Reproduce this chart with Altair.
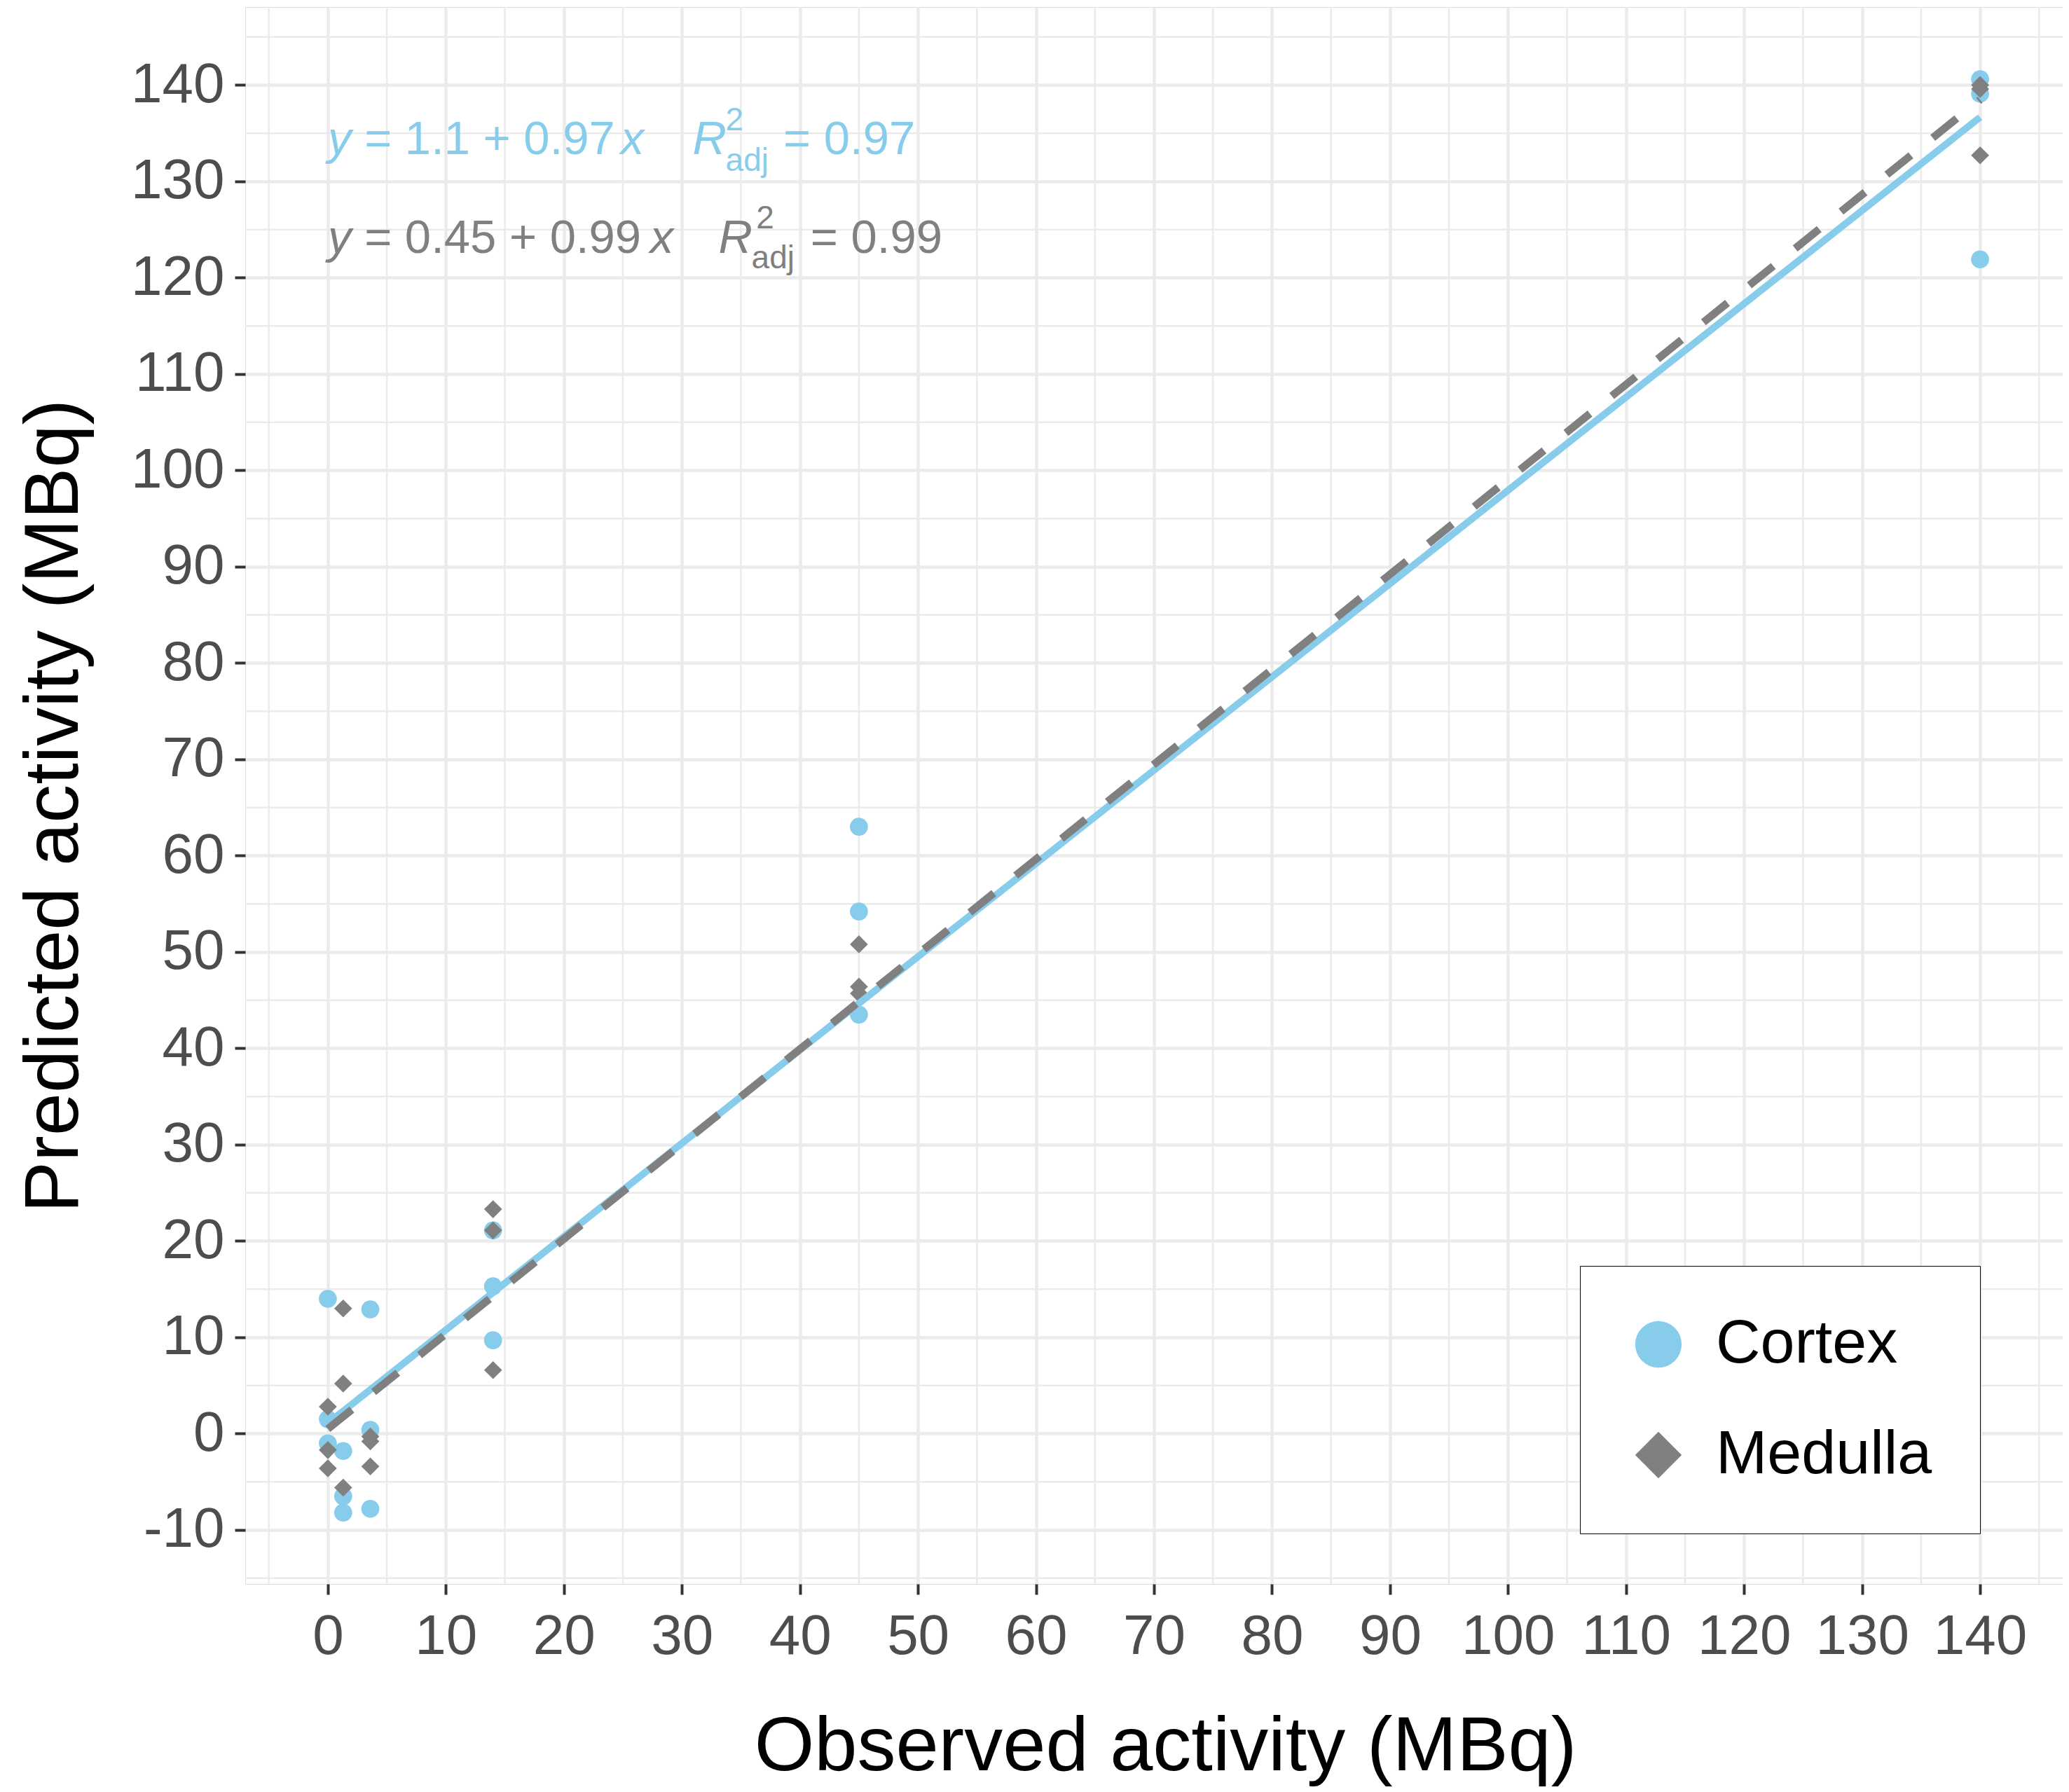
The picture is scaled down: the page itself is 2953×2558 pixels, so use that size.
import altair as alt
import pandas as pd

# ---------------- data ----------------
tissues = ["Cortex", "Medulla"]
observed = [0, 0, 0, 1.3, 1.3, 1.3, 3.6, 3.6, 3.6, 14, 14, 14, 45, 45, 45, 140, 140, 140]
pred_cortex = [14.0, 1.5, -1.0, -1.8, -6.5, -8.2, 12.9, 0.4, -7.8,
               21.1, 15.3, 9.7, 63.0, 54.2, 43.5, 140.6, 139.1, 121.9]
pred_medulla = [2.8, -1.7, -3.6, 13.0, 5.2, -5.6, -0.3, -0.8, -3.4,
                23.3, 21.1, 6.6, 50.8, 46.4, 45.7, 140.0, 132.7, 139.6]

x_ticks = list(range(0, 141, 10))
y_ticks = list(range(-10, 141, 10))
x_minor = list(range(-5, 146, 10))
y_minor = list(range(-15, 146, 10))

# equation annotation pieces (plotmath-like)
eq_text = ["y", "= 1.1 + 0.97", "x", "R", "2", "adj", "= 0.97",
           "y", "= 0.45 + 0.99", "x", "R", "2", "adj", "= 0.99"]
eq_x = [0.0, 3.1, 24.8, 30.9, 33.7, 33.7, 38.6,
        0.0, 3.1, 27.3, 33.1, 36.3, 35.9, 40.9]
eq_y = [132.8, 132.8, 132.8, 132.8, 135.3, 131.1, 132.8,
        122.6, 122.6, 122.6, 122.6, 125.1, 121.0, 122.6]
eq_size = [67, 67, 67, 67, 46, 46, 67,
           67, 67, 67, 67, 46, 46, 67]
eq_italic = [True, False, True, True, False, False, False,
             True, False, True, True, False, False, False]

BLUE = "#87CDEB"
GREY = "#808080"
eq_color = [BLUE] * 7 + [GREY] * 7

FONT = "Liberation Sans"

# ---------------- tables ----------------
pts = pd.DataFrame({
    "observed": observed + observed,
    "predicted": pred_cortex + pred_medulla,
    "tissue": ["Cortex"] * len(observed) + ["Medulla"] * len(observed),
})
eq = pd.DataFrame({"text": eq_text, "x": eq_x, "y": eq_y, "size": eq_size,
                   "italic": eq_italic, "color": eq_color})

xs = alt.Scale(domain=[-7, 147], nice=False, zero=False)
ys = alt.Scale(domain=[-15.6, 148.1], nice=False, zero=False)

W, H = 2594, 2251

x_axis = alt.Axis(values=x_ticks, grid=True, gridColor="#EBEBEB", gridWidth=4.5,
                  tickColor="#333333", tickWidth=4, tickSize=15, domain=False,
                  labelFont=FONT, labelFontSize=80, labelColor="#4D4D4D",
                  labelPadding=21, labelExpr="datum.value + ''",
                  title="Observed activity (MBq)", titleFont=FONT, titleFontSize=110,
                  titleFontWeight="normal", titleColor="black",
                  titleBaseline="alphabetic", titleY=265, titleX=1313)
y_axis = alt.Axis(values=y_ticks, grid=True, gridColor="#EBEBEB", gridWidth=4.5,
                  tickColor="#333333", tickWidth=4, tickSize=15, domain=False,
                  labelFont=FONT, labelFontSize=80, labelColor="#4D4D4D",
                  labelPadding=15, labelExpr="datum.value + ''",
                  title="Predicted activity (MBq)", titleFont=FONT, titleFontSize=110,
                  titleFontWeight="normal", titleColor="black",
                  titleBaseline="alphabetic", titleX=-240, titleY=1140)

legend = alt.Legend(
    title=None, orient="none", legendX=1905, legendY=1797,
    fillColor="white", strokeColor="black", padding=68,
    symbolSize=4400, symbolStrokeWidth=0, symbolOpacity=1,
    labelFont=FONT, labelFontSize=88, labelColor="black", labelLimit=1000,
    labelOffset=38, rowPadding=70,
)

points = alt.Chart(pts).mark_point(filled=True, opacity=1, strokeWidth=0, size=660).encode(
    x=alt.X("observed:Q", scale=xs, axis=x_axis),
    y=alt.Y("predicted:Q", scale=ys, axis=y_axis),
    color=alt.Color("tissue:N", scale=alt.Scale(domain=tissues, range=[BLUE, GREY]), legend=legend),
    shape=alt.Shape("tissue:N", scale=alt.Scale(domain=tissues, range=["circle", "diamond"]), legend=legend),
)

minor_x = alt.Chart(pd.DataFrame({"v": x_minor})).mark_rule(
    color="#EBEBEB", strokeWidth=2.5).encode(x=alt.X("v:Q", scale=xs, axis=x_axis))
minor_y = alt.Chart(pd.DataFrame({"v": y_minor})).mark_rule(
    color="#EBEBEB", strokeWidth=2.5).encode(y=alt.Y("v:Q", scale=ys, axis=y_axis))

fit_cortex = alt.Chart(pts).transform_filter(
    alt.datum.tissue == "Cortex"
).transform_regression("observed", "predicted").mark_line(
    color=BLUE, strokeWidth=10
).encode(x=alt.X("observed:Q", scale=xs, axis=x_axis), y=alt.Y("predicted:Q", scale=ys, axis=y_axis))

fit_medulla = alt.Chart(pts).transform_filter(
    alt.datum.tissue == "Medulla"
).transform_regression("observed", "predicted").mark_line(
    color=GREY, strokeWidth=11, strokeDash=[44, 40]
).encode(x=alt.X("observed:Q", scale=xs, axis=x_axis), y=alt.Y("predicted:Q", scale=ys, axis=y_axis))

eq_base = alt.Chart(eq).encode(
    x=alt.X("x:Q", scale=xs, axis=x_axis), y=alt.Y("y:Q", scale=ys, axis=y_axis),
    text="text:N",
    color=alt.Color("color:N", scale=None),
    size=alt.Size("size:Q", scale=None),
)
eq_italic_layer = eq_base.transform_filter(alt.datum.italic == True).mark_text(
    align="left", baseline="alphabetic", font=FONT, fontStyle="italic")
eq_normal_layer = eq_base.transform_filter(alt.datum.italic == False).mark_text(
    align="left", baseline="alphabetic", font=FONT)

chart = alt.layer(
    minor_x, minor_y, points, fit_cortex, fit_medulla, eq_italic_layer, eq_normal_layer
).properties(
    width=W, height=H,
    padding={"left": 342, "top": 2, "right": 0, "bottom": 289},
    autosize=alt.AutoSizeParams(type="none"),
).configure_view(
    stroke="black", strokeWidth=2.7
).configure_legend(
    strokeWidth=2.5
).configure(background="white")

chart.save("out.html", embed_options={"renderer": "svg", "actions": False})
